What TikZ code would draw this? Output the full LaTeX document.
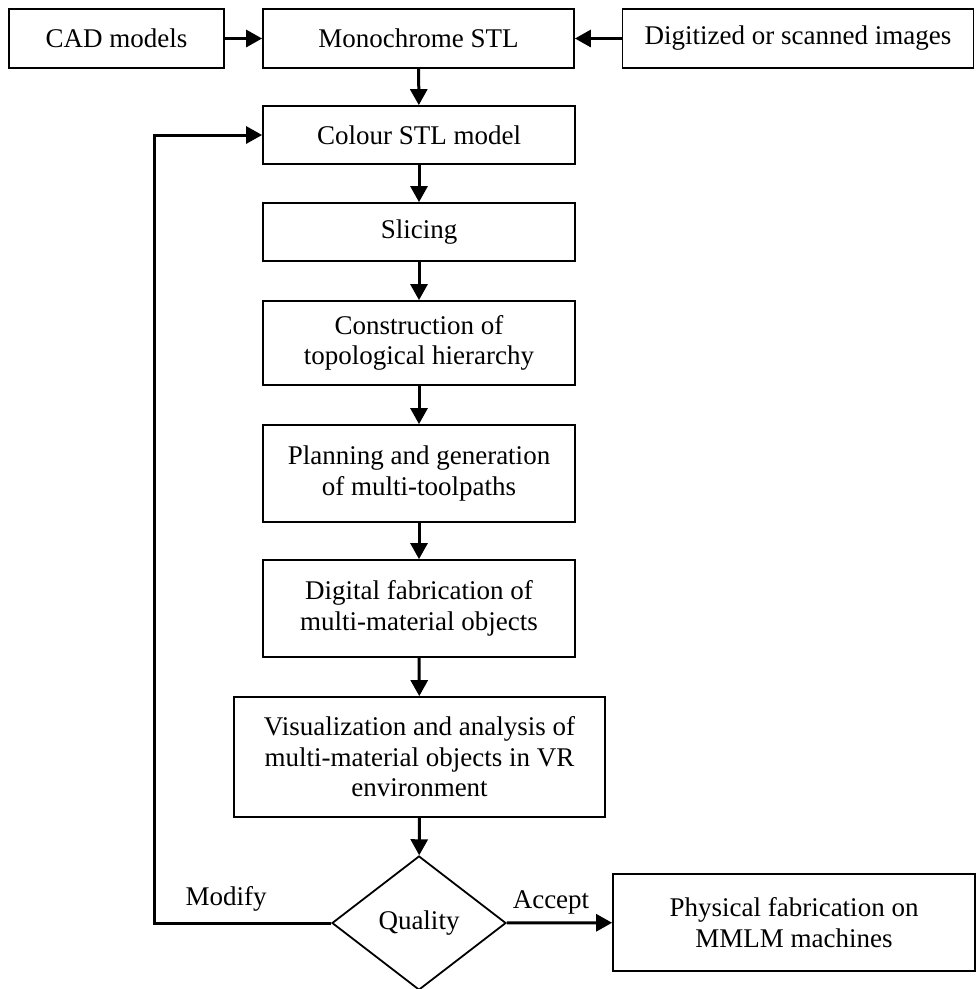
\documentclass[tikz,border=0pt]{standalone}
\usepackage{fontspec}
\setmainfont{Liberation Serif}
\usetikzlibrary{arrows.meta,shapes.geometric}
\begin{document}
\begin{tikzpicture}[x=1pt,y=-1pt,
  box/.style={draw=black, line width=1.8pt, rectangle, inner sep=0pt, align=center, font=\fontsize{27}{30.5}\selectfont},
  dia/.style={draw=black, line width=1.8pt, diamond, inner sep=0pt, font=\fontsize{27}{30.5}\selectfont},
  flow/.style={line width=3pt, -{Triangle[length=16pt,width=17pt]}},
  lbl/.style={inner sep=0pt, font=\fontsize{27}{30.5}\selectfont}]
\useasboundingbox (0,0) rectangle (976,989);
\node[box, minimum width=215pt, minimum height=59pt] (cad) at (116.5,38.5) {CAD models};
\node[box, minimum width=311pt, minimum height=59pt] (mono) at (418.5,38.5) {Monochrome STL};
\node[box, minimum width=351pt, minimum height=59pt] (dig) at (798,38.5) {Digitized or scanned images};
\node[box, minimum width=312pt, minimum height=58pt] (colour) at (419,135) {Colour STL model};
\node[box, minimum width=312pt, minimum height=58pt] (slice) at (419,232) {Slicing};
\node[box, minimum width=312pt, minimum height=84pt] (constr) at (419,343) {Construction of\\topological hierarchy};
\node[box, minimum width=312pt, minimum height=97pt] (plan) at (419,473.5) {Planning and generation\\of multi-toolpaths};
\node[box, minimum width=312pt, minimum height=97pt] (digi) at (419,608.5) {Digital fabrication of\\multi-material objects};
\node[box, minimum width=371pt, minimum height=120pt] (vis) at (419.5,757) {Visualization and analysis of\\multi-material objects in VR\\environment};
\node[dia, minimum width=174pt, minimum height=134pt] (qual) at (419,923) {Quality};
\node[box, minimum width=362pt, minimum height=97pt] (phys) at (794,922.5) {Physical fabrication on\\MMLM machines};
\node[lbl] (acc) at (551,902) {Accept};
\node[lbl] (mod) at (226,899) {Modify};
\coordinate (lb) at (154,923);
\coordinate (lt) at (154,135);
\draw[flow] (cad) -- (mono);
\draw[flow] (dig) -- (mono);
\draw[flow] (mono) -- (colour);
\draw[flow] (colour) -- (slice);
\draw[flow] (slice) -- (constr);
\draw[flow] (constr) -- (plan);
\draw[flow] (plan) -- (digi);
\draw[flow] (digi) -- (vis);
\draw[flow] (vis) -- (qual);
\draw[flow] (qual) -- (phys);
\draw[flow, line join=miter] (qual.west) -- (lb) -- (lt) -- (colour.west);
\end{tikzpicture}
\end{document}
